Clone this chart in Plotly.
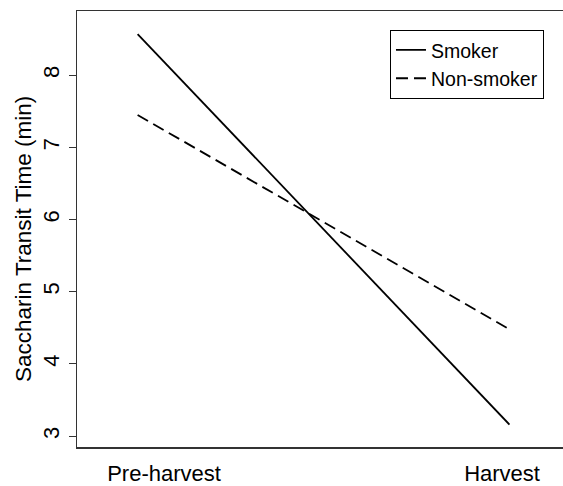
import plotly.graph_objects as go

categories = ["Pre-harvest", "Harvest"]
smoker = [8.57, 3.16]
non_smoker = [7.45, 4.48]
y_ticks = [3, 4, 5, 6, 7, 8]
y_title = "Saccharin Transit Time (min)"

x_idx = list(range(len(categories)))
FONT = "Liberation Sans, Arial, Helvetica, sans-serif"

fig = go.Figure()
fig.add_trace(go.Scatter(x=x_idx, y=smoker, mode="lines", name="Smoker",
                         line=dict(color="black", width=1.8)))
fig.add_trace(go.Scatter(x=x_idx, y=non_smoker, mode="lines", name="Non-smoker",
                         line=dict(color="black", width=1.8, dash="12px,6px")))

# y-axis title as a rotated text annotation (placed slightly below the plot centre, as in the reference)
fig.add_annotation(text=y_title, textangle=-90, showarrow=False,
                   xref="paper", yref="paper", x=0, y=0.5,
                   xanchor="center", yanchor="middle", xshift=-54, yshift=-10,
                   font=dict(family=FONT, size=22.5, color="black"))

fig.update_layout(
    width=563, height=486,
    margin=dict(l=77, r=0, t=11, b=34),
    paper_bgcolor="white", plot_bgcolor="white",
    font=dict(family=FONT, size=21, color="black"),
    showlegend=True,
    legend=dict(x=0.644, y=0.957, xanchor="left", yanchor="top",
                bordercolor="black", borderwidth=1, bgcolor="white",
                font=dict(size=19.5), itemwidth=30, tracegroupgap=0),
    xaxis=dict(range=[-0.163, 1.144], showgrid=False, zeroline=False,
               showline=True, mirror=True, linecolor="#333", linewidth=1.5,
               tickmode="array", tickvals=[0.071, 0.980], ticktext=categories,
               ticks="", ticklabelstandoff=6, tickfont=dict(size=22),
               fixedrange=True),
    yaxis=dict(range=[2.849, 8.89], showgrid=False, zeroline=False,
               showline=True, mirror=False, linecolor="#333", linewidth=1.5,
               tickmode="array", tickvals=y_ticks, ticks="outside", ticklen=7,
               tickcolor="#333", tickangle=-90, ticklabelstandoff=1,
               tickfont=dict(size=22), fixedrange=True),
)

# page styling only: drop the browser's default body margin so the figure fills the window
page_css = ("document.documentElement.style.overflow='hidden';"
            "document.body.style.margin='0';"
            "document.body.style.overflow='hidden';")

fig.write_html("out.html", post_script=page_css,
               config={"displayModeBar": False, "staticPlot": True})
